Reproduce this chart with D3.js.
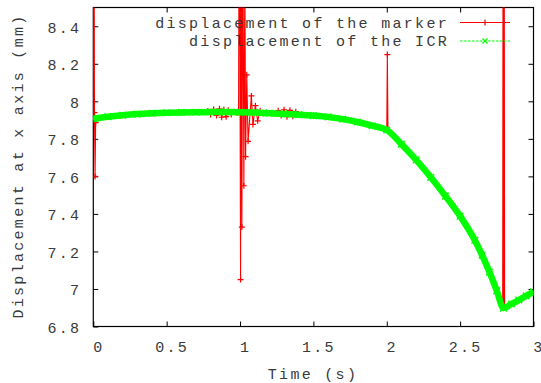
<!DOCTYPE html>
<html><head><meta charset="utf-8">
<script src="https://cdn.jsdelivr.net/npm/d3@7"></script>
<style>
body{margin:0;background:#fff;}
svg text{font-family:"Liberation Mono","Courier New",monospace;font-size:15px;letter-spacing:2.3px;fill:#3a3a3a;}
</style></head>
<body><svg id="c" width="541" height="383"></svg>
<script>
// ---- data ----
const icrTime = [0,0.1,0.2,0.3,0.4,0.5,0.6,0.7,0.8,0.9,1.0,1.1,1.2,1.3,1.4,1.5,1.6,1.7,1.8,1.9,2.0,2.1,2.2,2.3,2.4,2.5,2.6,2.65,2.7,2.75,2.795,2.85,2.9,2.95,3.0];
const icrDisp = [7.907,7.918,7.926,7.932,7.936,7.939,7.941,7.942,7.943,7.943,7.942,7.940,7.937,7.933,7.929,7.924,7.917,7.905,7.890,7.870,7.847,7.772,7.688,7.595,7.495,7.388,7.260,7.180,7.090,6.990,6.898,6.920,6.941,6.963,6.985];

const markerTime = [0,0.004,0.008,0.012,0.016,0.022,0.2,0.4,0.6,0.75,0.78,0.80,0.82,0.84,0.86,0.875,0.89,0.905,0.92,0.94,0.96,0.975,0.990,0.9955,1.0036,1.0084,1.0125,1.0193,1.0261,1.033,1.0377,1.0459,1.0548,1.0773,1.088,1.105,1.12,1.137,1.157,1.18,1.25,1.26,1.28,1.30,1.32,1.34,1.36,1.38,1.40,1.5,1.6,1.7,1.8,1.9,2.0,2.004,2.008,2.1,2.2,2.3,2.4,2.5,2.6,2.65,2.7,2.75,2.79,2.793,2.797,2.80,2.803,2.85,2.9,2.95,3.0];
const markerDisp = [7.907,9.5,7.94,7.60,7.886,7.91,7.926,7.936,7.941,7.943,7.948,7.930,7.957,7.925,7.960,7.915,7.955,7.918,7.952,7.930,7.945,7.940,7.940,9.5,7.05,9.3,7.33,9.0,7.55,8.7,7.705,8.141,7.787,8.029,7.877,7.977,7.896,7.950,7.935,7.940,7.935,7.950,7.925,7.955,7.918,7.952,7.920,7.945,7.928,7.924,7.917,7.905,7.890,7.870,7.847,8.249,7.845,7.772,7.688,7.595,7.495,7.388,7.260,7.180,7.090,6.990,6.905,9.5,6.898,9.5,6.900,6.920,6.941,6.963,6.985];

const xTicks = [0,0.5,1,1.5,2,2.5,3];
const xTickLabels = ["0","0.5","1","1.5","2","2.5","3"];
const yTicks = [6.8,7,7.2,7.4,7.6,7.8,8,8.2,8.4];
const yTickLabels = ["6.8","7","7.2","7.4","7.6","7.8","8","8.2","8.4"];
const seriesNames = ["displacement of the marker","displacement of the ICR"];
const seriesColors = ["#ff0000","#00ff00"];

// ---- layout ----
const L=93.3, R=533.5, T=7.5, B=326.5;
const svg = d3.select("#c");
const x = d3.scaleLinear().domain([0,3]).range([L,R]);
const y = d3.scaleLinear().domain([6.8,8.5]).range([B,T]);

svg.append("defs").append("clipPath").attr("id","clip")
  .append("rect").attr("x",L).attr("y",T).attr("width",R-L).attr("height",B-T);

// axes (ticks inward on all sides)
const tk = 5;
svg.append("g").attr("transform",`translate(0,${B})`)
  .call(d3.axisBottom(x).tickValues(xTicks).tickSize(-tk).tickFormat((d,i)=>xTickLabels[i]).tickPadding(14))
  .call(g=>{g.select(".domain").remove();g.selectAll("text").attr("dx",5).attr("dy","0.75em").style("font-size","15px").style("font-family",null);});
svg.append("g").attr("transform",`translate(0,${T})`)
  .call(d3.axisTop(x).tickValues(xTicks.slice(1,-1)).tickSize(-tk).tickFormat(""))
  .call(g=>g.select(".domain").remove());
svg.append("g").attr("transform",`translate(${L},0)`)
  .call(d3.axisLeft(y).tickValues(yTicks).tickSize(-tk).tickFormat((d,i)=>yTickLabels[i]).tickPadding(12))
  .call(g=>{g.select(".domain").remove();g.selectAll("text").attr("dy","0.4em").style("font-size","15px").style("font-family",null);});
svg.append("g").attr("transform",`translate(${R},0)`)
  .call(d3.axisRight(y).tickValues(yTicks.slice(1)).tickSize(-tk).tickFormat(""))
  .call(g=>g.select(".domain").remove());
svg.selectAll(".tick line").attr("stroke","#000");

svg.append("rect").attr("x",L).attr("y",T).attr("width",R-L).attr("height",B-T)
  .attr("fill","none").attr("stroke","#000").attr("stroke-width",1.2);

// axis titles
svg.append("text").attr("x",313).attr("y",379).attr("text-anchor","middle").text("Time (s)");
svg.append("text").attr("transform","translate(23,166) rotate(-90)").attr("text-anchor","middle").text("Displacement at x axis (mm)");

// series
const plot = svg.append("g").attr("clip-path","url(#clip)");
const redPts = markerTime.map((t,i)=>[t,markerDisp[i]]);
const grnPts = icrTime.map((t,i)=>[t,icrDisp[i]]);
const line = d3.line().x(d=>x(d[0])).y(d=>y(d[1]));

plot.append("path").datum(redPts).attr("d",line).attr("fill","none").attr("stroke",seriesColors[0]).attr("stroke-width",1.1);
const plusPath = (cx,cy,s)=>`M${cx-s},${cy}H${cx+s}M${cx},${cy-s}V${cy+s}`;
const crossPath = (cx,cy,s)=>`M${cx-s},${cy-s}L${cx+s},${cy+s}M${cx-s},${cy+s}L${cx+s},${cy-s}`;
plot.selectAll("path.rm").data(redPts).enter().append("path").attr("class","rm")
  .attr("d",d=>plusPath(x(d[0]),y(d[1]),3)).attr("stroke",seriesColors[0]).attr("stroke-width",1.2);

plot.append("path").datum(grnPts).attr("d",d3.line().x(d=>x(d[0])).y(d=>y(d[1])).curve(d3.curveMonotoneX))
  .attr("fill","none").attr("stroke",seriesColors[1]).attr("stroke-width",6.5).attr("stroke-linejoin","round");
plot.selectAll("path.gm").data(grnPts).enter().append("path").attr("class","gm")
  .attr("d",d=>crossPath(x(d[0]),y(d[1]),3.3)).attr("stroke",seriesColors[1]).attr("stroke-width",1.5);

// legend
const legY=[22.5,41];
seriesNames.forEach((n,i)=>{
  svg.append("text").attr("x",449).attr("y",legY[i]+5).attr("text-anchor","end").text(n);
  svg.append("line").attr("x1",460).attr("x2",510).attr("y1",legY[i]).attr("y2",legY[i])
    .attr("stroke",seriesColors[i]).attr("stroke-width",1).attr("stroke-dasharray",i===1?"2.5,1.5":null);
  svg.append("path").attr("d",i===0?plusPath(485,legY[i],3):crossPath(485,legY[i],2.5))
    .attr("stroke",seriesColors[i]).attr("stroke-width",1.2);
});
</script></body></html>
